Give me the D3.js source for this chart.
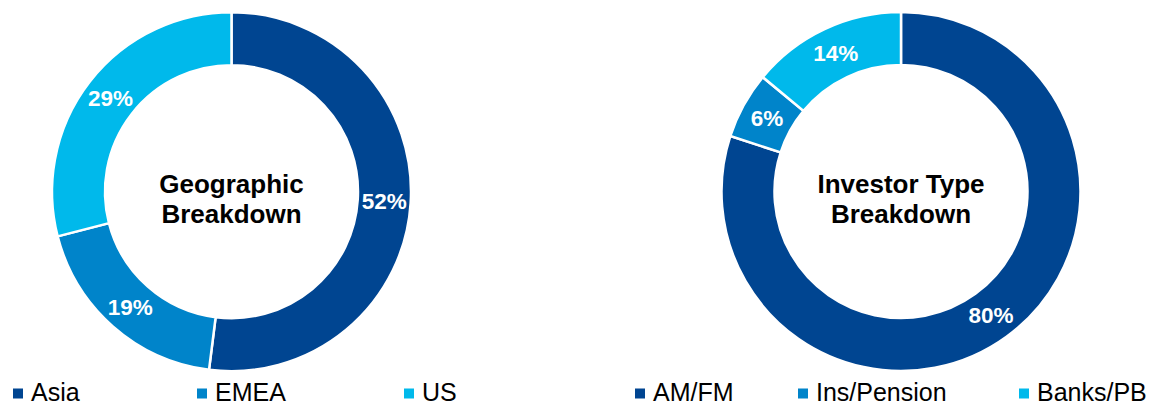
<!DOCTYPE html>
<html>
<head>
<meta charset="utf-8">
<script src="https://cdn.jsdelivr.net/npm/d3@7"></script>
<style>
  html, body { margin: 0; padding: 0; background: #fff; }
  svg { display: block; font-family: "Liberation Sans", Arial, sans-serif; }
</style>
</head>
<body>
<svg id="chart" width="1172" height="406"></svg>
<script>
const geoCategories = ["Asia", "EMEA", "US"];
const geoValues = [52, 19, 29];
const geoTitle = ["Geographic", "Breakdown"];

const invCategories = ["AM/FM", "Ins/Pension", "Banks/PB"];
const invValues = [80, 6, 14];
const invTitle = ["Investor Type", "Breakdown"];

const colors = ["#004591", "#0084CA", "#00B9EB"];

const svg = d3.select("#chart");

function donut(cx, cy, cats, vals, title, legendX) {
  const g = svg.append("g").attr("transform", `translate(${cx},${cy})`);
  const pie = d3.pie().sort(null).value(d => d.v);
  const data = pie(cats.map((c, i) => ({ c, v: vals[i], i })));
  const outer = 179.5, inner = 126.5;
  const arc = d3.arc().innerRadius(inner).outerRadius(outer);
  const labelArc = d3.arc().innerRadius((inner + outer) / 2).outerRadius((inner + outer) / 2);
  g.selectAll("path").data(data).join("path")
    .attr("d", arc)
    .attr("fill", d => colors[d.data.i])
    .attr("stroke", "#fff")
    .attr("stroke-width", 2.5)
    .attr("stroke-linejoin", "miter");
  g.selectAll("text.pct").data(data).join("text")
    .attr("class", "pct")
    .attr("transform", d => `translate(${labelArc.centroid(d)})`)
    .attr("text-anchor", "middle")
    .attr("dy", "0.36em")
    .attr("fill", "#fff")
    .attr("font-weight", "bold")
    .attr("font-size", 22.5)
    .text(d => d.data.v + "%");
  g.selectAll("text.title").data(title).join("text")
    .attr("class", "title")
    .attr("text-anchor", "middle")
    .attr("x", 0)
    .attr("y", (d, i) => 1.5 + i * 30)
    .attr("font-weight", "bold")
    .attr("font-size", 26)
    .attr("fill", "#000")
    .text(d => d);

  const lg = svg.append("g");
  const item = lg.selectAll("g").data(cats).join("g")
    .attr("transform", (d, i) => `translate(${legendX[i]},0)`);
  item.append("rect")
    .attr("x", 0).attr("y", 388.5).attr("width", 10).attr("height", 10)
    .attr("fill", (d, i) => colors[i]);
  item.append("text")
    .attr("x", 18).attr("y", 400.5)
    .attr("font-size", 25)
    .attr("fill", "#000")
    .text(d => d);
}

donut(231.5, 191.7, geoCategories, geoValues, geoTitle, [13, 197, 404]);
donut(901, 191.5, invCategories, invValues, invTitle, [635, 798, 1019]);
</script>
</body>
</html>
